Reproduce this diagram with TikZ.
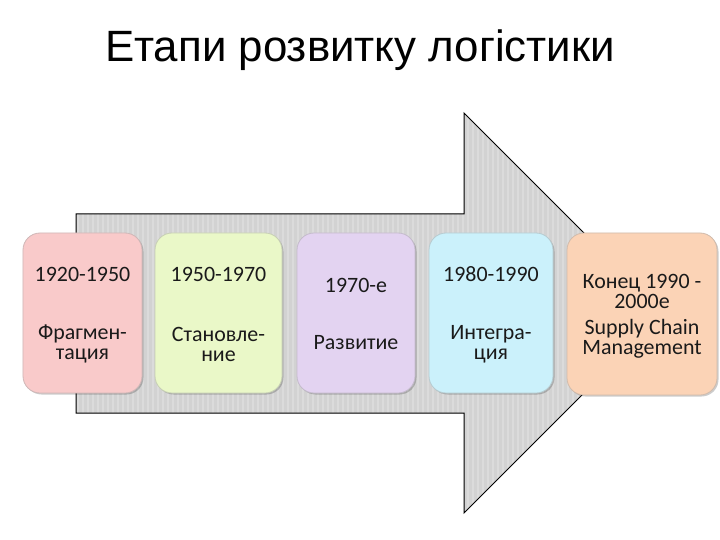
\documentclass[tikz,border=0pt]{standalone}
\usepackage{fontspec}
\setmainfont{Carlito}
\newfontfamily\titlefont{Liberation Sans}
\usetikzlibrary{shadows}
\definecolor{pinkf}{HTML}{F9CACA}
\definecolor{greenf}{HTML}{EAF8C8}
\definecolor{violetf}{HTML}{E3D3F1}
\definecolor{bluef}{HTML}{CBF1FB}
\definecolor{orangef}{HTML}{FBD3B6}
\definecolor{arrowf}{HTML}{D2D2D2}
\definecolor{stripe}{HTML}{DBDBDB}
\definecolor{txt}{HTML}{1A1A1A}
\tikzset{
  card/.style={rectangle, rounded corners=17bp, fill=#1, draw=#1!75!black!70, line width=0.8bp,
    drop shadow={shadow xshift=1.5bp, shadow yshift=-1.5bp, fill=black, opacity=0.2}},
  lbl/.style={font=\fontsize{22}{20}\selectfont, text=txt, align=center, inner sep=0pt},
  arrowshape/.style={draw=black, line width=1bp}
}
\begin{document}
\begin{tikzpicture}[x=1bp,y=-1bp]
\useasboundingbox[fill=white] (0,0) rectangle (720,540);
\node[font=\titlefont\fontsize{44}{48}\selectfont, anchor=base, inner sep=0pt] (title) at (360,62) {Етапи розвитку логістики};
% big arrow
\path[fill=arrowf] (76,214) -- (464,214) -- (464,113) -- (664,313) -- (464,513) -- (464,413) -- (76,413) -- cycle;
\begin{scope}
\clip (76,214) -- (464,214) -- (464,113) -- (664,313) -- (464,513) -- (464,413) -- (76,413) -- cycle;
\foreach \x in {78,83,...,670} \draw[stripe, line width=1.4bp] (\x,100) -- (\x,520);
\end{scope}
\draw[arrowshape] (76,214) -- (464,214) -- (464,113) -- (664,313) -- (464,513) -- (464,413) -- (76,413) -- cycle;
% cards
\node[card=pinkf, minimum width=119bp, minimum height=160bp] (b1) at (82.5,313) {};
\node[card=greenf, minimum width=127bp, minimum height=160bp] (b2) at (218.5,313) {};
\node[card=violetf, minimum width=118bp, minimum height=160bp] (b3) at (356,313) {};
\node[card=bluef, minimum width=124bp, minimum height=160bp] (b4) at (491,313) {};
\node[card=orangef, minimum width=150bp, minimum height=162bp] (b5) at (642,314) {};
% texts
\node[lbl] (y1) at (82.5,274) {1920-1950};
\node[lbl] (t1) at (82.5,344) {Фрагмен-\\тация};
\node[lbl] (y2) at (218.5,274) {1950-1970};
\node[lbl] (t2) at (218.5,344) {Становле-\\ние};
\node[lbl] (y3) at (356,285) {1970-е};
\node[lbl] (t3) at (356,343) {Развитие};
\node[lbl] (y4) at (491,274) {1980-1990};
\node[lbl] (t4) at (491,344) {Интегра-\\ция};
\node[lbl] (y5) at (642,291) {Конец 1990 -\\2000e};
\node[lbl] (t5) at (642,339) {Supply Chain\\Management};
\end{tikzpicture}
\end{document}
